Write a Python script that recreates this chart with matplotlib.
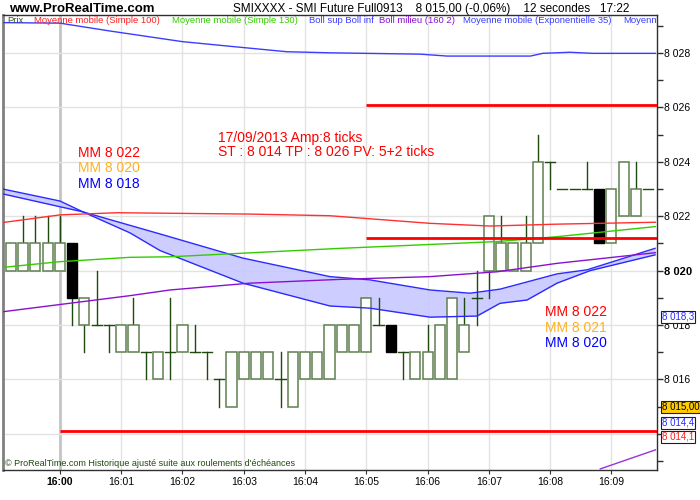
import matplotlib
matplotlib.use("Agg")
import matplotlib.pyplot as plt
from matplotlib.patches import Rectangle
import matplotlib.transforms as mtransforms
import numpy as np

plt.rcParams['font.family'] = ['Liberation Sans', 'DejaVu Sans']

# ---------------- data (12-second bars, index 4 = 16:00:00) ----------------
opens  = [8020, 8020, 8020, 8020, 8020, 8021, 8018, 8018, 8018, 8017,
          8017, 8017, 8016, 8017, 8017, 8017, 8017, 8016, 8015, 8016,
          8016, 8016, 8016, 8015, 8016, 8016, 8016, 8017, 8017, 8017,
          8018, 8018, 8017, 8016, 8016, 8016, 8016, 8017, 8019, 8020,
          8020, 8020, 8020, 8021, 8024, 8023, 8023, 8023, 8023, 8021,
          8022, 8022, 8023]
highs  = [8021, 8022, 8022, 8022, 8022, 8021, 8019, 8020, 8018, 8018,
          8019, 8017, 8017, 8019, 8018, 8018, 8017, 8016, 8017, 8017,
          8017, 8017, 8017, 8017, 8017, 8017, 8018, 8018, 8018, 8019,
          8019, 8018, 8017, 8017, 8018, 8018, 8019, 8019, 8020, 8022,
          8022, 8021, 8022, 8025, 8024, 8023, 8023, 8024, 8023, 8023,
          8024, 8024, 8023]
lows   = [8020, 8020, 8020, 8020, 8020, 8018, 8017, 8018, 8017, 8017,
          8017, 8016, 8016, 8016, 8017, 8017, 8016, 8015, 8015, 8016,
          8016, 8016, 8015, 8015, 8016, 8016, 8016, 8017, 8017, 8017,
          8018, 8017, 8016, 8016, 8016, 8016, 8016, 8017, 8018, 8019,
          8020, 8020, 8020, 8021, 8023, 8023, 8023, 8023, 8021, 8021,
          8022, 8022, 8023]
closes = [8021, 8021, 8021, 8021, 8021, 8019, 8019, 8018, 8018, 8018,
          8018, 8017, 8017, 8017, 8018, 8017, 8017, 8016, 8017, 8017,
          8017, 8017, 8016, 8017, 8017, 8017, 8018, 8018, 8018, 8019,
          8018, 8017, 8017, 8017, 8017, 8018, 8019, 8018, 8019, 8022,
          8021, 8021, 8021, 8024, 8024, 8023, 8023, 8023, 8021, 8023,
          8024, 8023, 8023]

time_labels = ["16:00", "16:01", "16:02", "16:03", "16:04",
               "16:05", "16:06", "16:07", "16:08", "16:09"]
first_minute_bar = 4
bars_per_minute = 5

# indicators: (bar index, value)
sma100_x = [-0.65, 4, 8.65, 13, 19.5, 26, 34.2, 39.1, 44.6, 52.6]
sma100_y = [8021.77, 8022.05, 8022.13, 8022.11, 8022.08, 8022.02, 8021.74, 8021.64, 8021.71, 8021.78]
sma130_x = [-0.65, 4, 9.7, 13, 26.9, 39.7, 44.6, 52.6]
sma130_y = [8020.12, 8020.33, 8020.49, 8020.51, 8020.82, 8021.07, 8021.25, 8021.62]
bmid_x = [-0.65, 9.7, 13, 19.5, 26.9, 34.2, 39.7, 44.6, 52.6]
bmid_y = [8018.49, 8019.08, 8019.29, 8019.54, 8019.68, 8019.78, 8019.96, 8020.27, 8020.66]
bsup_x = [-0.65, 4, 8.1, 14, 18.1, 22.5, 26, 33.4, 35.6, 42.4, 43.4, 45.6, 47.5, 52.6]
bsup_y = [8029.12, 8029.10, 8028.81, 8028.42, 8028.24, 8028.05, 8028.01, 8027.96,
          8027.89, 8027.89, 8027.99, 8028.03, 8027.99, 8027.99]
binf_x = [48.1, 52.6]
binf_y = [8012.71, 8013.41]
fast_x = [-0.65, 4, 5.88, 9.71, 12.16, 18.94, 26.04, 29.31, 34.2, 38.04, 39.92, 42.12, 44.57, 47.27, 52.57]
fast_y = [8023.00, 8022.56, 8022.16, 8021.39, 8020.74, 8019.54, 8018.70, 8018.62, 8018.29,
          8018.33, 8018.80, 8018.92, 8019.54, 8020.00, 8020.58]
slow_x = [-0.65, 5.88, 12.16, 18.94, 26.04, 29.31, 34.2, 37.47, 39.92, 44.57, 47.02, 52.57]
slow_y = [8022.82, 8022.16, 8021.35, 8020.46, 8019.78, 8019.66, 8019.29, 8019.17, 8019.32,
          8019.88, 8020.03, 8020.82]

tp_level, entry_level, st_level = 8026.1, 8021.2, 8014.1
tp_start, entry_start, st_start = 29, 29, 4

y_ticks = [8016, 8018, 8020, 8022, 8024, 8026, 8028]

# ---------------- figure ----------------
W, H = 700, 500
fig = plt.figure(figsize=(7, 5), dpi=100)
fig.patch.set_facecolor('white')
ax = fig.add_axes([3 / W, 30 / H, 654 / W, 455 / H])
xmin, xmax = -0.65, 52.73
ax.set_xlim(xmin, xmax)
ax.set_ylim(8012.67, 8029.40)

# grid
minute_pos = [first_minute_bar + bars_per_minute * i for i in range(len(time_labels))]
for i, p in enumerate(minute_pos):
    if i == 0:
        ax.axvline(p, color='#c4c4c4', lw=2, zorder=0)
    else:
        ax.axvline(p, color='#e2e2e2', lw=1, zorder=0)
for v in range(8014, 8030, 2):
    ax.axhline(v, color='#e2e2e2', lw=1, zorder=0)

# band fill
grid_x = np.union1d(fast_x, slow_x)
fi = np.interp(grid_x, fast_x, fast_y)
si = np.interp(grid_x, slow_x, slow_y)
ax.fill_between(grid_x, fi, si, color='#c8c8ff', alpha=0.9, lw=0, zorder=1)

# candles
bw = 0.82
for i, (o, h, l, c) in enumerate(zip(opens, highs, lows, closes)):
    top, bot = max(o, c), min(o, c)
    if h > top:
        ax.plot([i, i], [top, h], color='#1f4a0f', lw=1, zorder=2)
    if l < bot:
        ax.plot([i, i], [l, bot], color='#1f4a0f', lw=1, zorder=2)
    if c > o:
        ax.add_patch(Rectangle((i - bw / 2, bot), bw, top - bot, facecolor='white',
                               edgecolor='#5f7f4f', lw=1.1, zorder=2))
    elif c < o:
        ax.add_patch(Rectangle((i - bw / 2, bot), bw, top - bot, facecolor='black',
                               edgecolor='black', lw=1, zorder=2))
    else:
        ax.plot([i - bw / 2, i + bw / 2], [o, o], color='#1f4a0f', lw=1, zorder=2)

# indicator lines
ax.plot(fast_x, fast_y, color='#2a2aff', lw=1, zorder=3)
ax.plot(slow_x, slow_y, color='#2a2aff', lw=1, zorder=3)
ax.plot(sma100_x, sma100_y, color='#ff3030', lw=1, zorder=3)
ax.plot(sma130_x, sma130_y, color='#33cc00', lw=1, zorder=3)
ax.plot(bmid_x, bmid_y, color='#8a10d0', lw=1, zorder=3)
ax.plot(bsup_x, bsup_y, color='#3c3cff', lw=1, zorder=3)
ax.plot(binf_x, binf_y, color='#9a30e0', lw=1, zorder=3)

# level lines
for start, lvl in [(tp_start, tp_level), (entry_start, entry_level), (st_start, st_level)]:
    ax.plot([start, xmax], [lvl, lvl], color='#ff0000', lw=2, zorder=4, solid_capstyle='butt')

# axes styling
for s in ['top', 'bottom', 'right']:
    ax.spines[s].set_color('#303030')
    ax.spines[s].set_linewidth(1)
ax.spines['left'].set_color('#808080')
ax.spines['left'].set_linewidth(2)

ax.yaxis.tick_right()
ax.set_yticks(y_ticks)
ax.set_yticklabels(["8 0" + str(v)[2:] for v in y_ticks], fontsize=7.5)
ax.set_yticks(list(range(8013, 8030)), minor=True)
ax.tick_params(axis='y', which='both', direction='out', length=4, width=1, color='#303030', pad=1)
for lab in ax.get_yticklabels():
    if lab.get_text() == "8 020":
        lab.set_fontweight('bold')
        lab.set_fontsize(8)
ax.set_xticks(minute_pos)
ax.set_xticklabels(time_labels, fontsize=7.5)
ax.tick_params(axis='x', direction='out', length=3, color='#303030', pad=2)
ax.get_xticklabels()[0].set_fontweight('bold')

# right-side value boxes
trans = mtransforms.blended_transform_factory(ax.transAxes, ax.transData)
box_labels = [(8018.3, "8 018,3", '#2a2aff', 'white'),
              (8013.9, "8 014,1", '#ff2020', 'white'),
              (8014.4, "8 014,4", '#2a2aff', 'white'),
              (8015.0, "8 015,00", 'black', '#ffcc00')]
for v, t, tc, fc in box_labels:
    ax.text(1.007, v, t, transform=trans, fontsize=7, color=tc, va='center', ha='left',
            family=['Liberation Sans Narrow', 'Liberation Sans'],
            bbox=dict(boxstyle='square,pad=0.1', fc=fc, ec='#202020', lw=0.8), clip_on=False, zorder=6)

# texts
def ftext(x, y, s, **kw):
    fig.text(x / W, 1 - y / H, s, va='center', ha='left', **kw)

ftext(9, 9, "www.ProRealTime.com", fontsize=9.5, fontweight='bold',
      family=['Liberation Sans Narrow', 'Liberation Sans'])
ftext(233, 9, "SMIXXXX - SMI Future Full0913    8 015,00 (-0,06%)    12 secondes   17:22",
      fontsize=8.5, family=['Liberation Sans Narrow', 'Liberation Sans'])

legend_items = [(7, "Prix", '#3a5a2a'),
                (34, "Moyenne mobile (Simple 100)", '#ff2020'),
                (172, "Moyenne mobile (Simple 130)", '#33cc00'),
                (309, "Boll sup Boll inf", '#3c3cff'),
                (379, "Boll milieu (160 2)", '#8a10d0'),
                (463, "Moyenne mobile (Exponentielle 35)", '#3c3cff'),
                (623, "Moyenn", '#3c3cff')]
for x, s, c in legend_items:
    ftext(x, 20.5, s, fontsize=6.8, color=c)

ftext(78, 153, "MM 8 022", fontsize=10, color='#ff0000')
ftext(78, 168.5, "MM 8 020", fontsize=10, color='#ffb020')
ftext(78, 183.5, "MM 8 018", fontsize=10, color='#0000ff')
ftext(218, 138, "17/09/2013 Amp:8 ticks", fontsize=10, color='#ff0000')
ftext(218, 152, "ST : 8 014 TP : 8 026 PV: 5+2 ticks", fontsize=10, color='#ff0000')
ftext(545, 312, "MM 8 022", fontsize=10, color='#ff0000')
ftext(545, 327.5, "MM 8 021", fontsize=10, color='#ffb020')
ftext(545, 343, "MM 8 020", fontsize=10, color='#0000ff')
ftext(5, 464, "\u00a9 ProRealTime.com Historique ajust\u00e9 suite aux roulements d'\u00e9ch\u00e9ances",
      fontsize=6.5, color='#1f4a0f')

fig.savefig("out.png", dpi=100)
